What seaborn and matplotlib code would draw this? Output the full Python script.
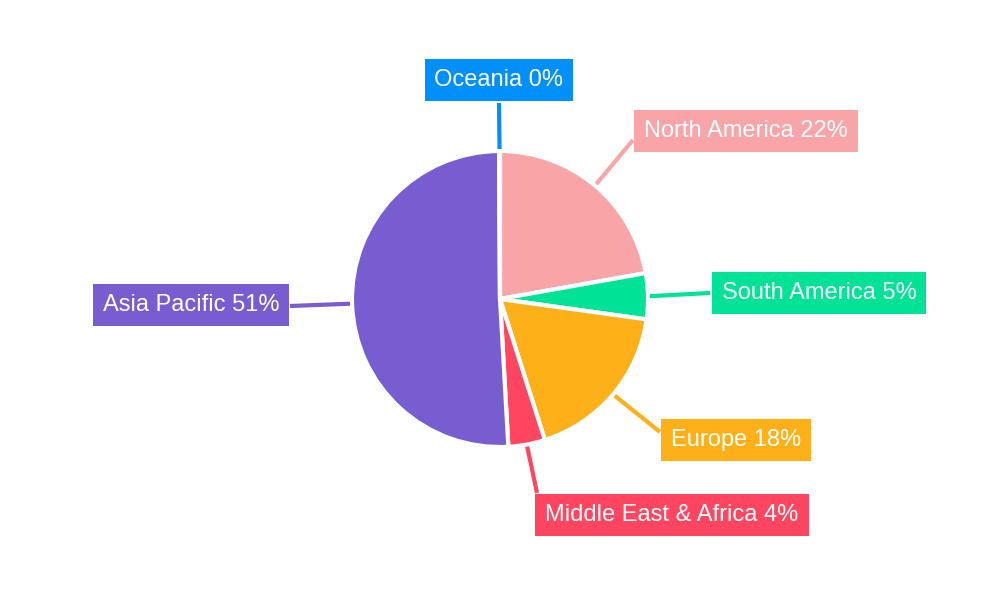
import numpy as np
import matplotlib
matplotlib.use("Agg")
import matplotlib.pyplot as plt
import seaborn as sns

regions = ["North America", "South America", "Europe", "Middle East & Africa", "Asia Pacific", "Oceania"]
values = [22.2, 5.0, 17.9, 4.0, 50.8, 0.1]
pct_labels = ["22%", "5%", "18%", "4%", "51%", "0%"]
colors = ["#F9A5A8", "#00E396", "#FEB019", "#FF4560", "#775DD0", "#008FFB"]

sns.set_theme(style="white")
plt.rcParams['font.family'] = ['Liberation Sans', 'DejaVu Sans']

fig = plt.figure(figsize=(10, 6), dpi=100)
ax = fig.add_axes([0, 0, 1, 1])

cx, cy, r = 500, 299, 148
ax.pie(values, colors=sns.color_palette(colors), startangle=-90, counterclock=True,
       center=(cx, cy), radius=r, frame=True,
       wedgeprops=dict(edgecolor="white", linewidth=3))
ax.set_xlim(0, 1000); ax.set_ylim(600, 0); ax.set_aspect('equal'); ax.axis('off')

label_pos = [(746, 131), (819, 293), (736, 440), (672, 515), (191, 305), (499, 80)]
line_ends = [(633, 140), (710, 293), (660, 432), (537, 493), (290, 306), (499, 103)]

cum = 0
for i, v in enumerate(values):
    mid = cum + v / 2
    cum += v
    ang = np.deg2rad(mid * 3.6)
    sx, sy = cx + (r + 2) * np.sin(ang), cy - (r + 2) * np.cos(ang)
    ex, ey = line_ends[i]
    ax.plot([sx, ex], [sy, ey], color=colors[i], lw=3, solid_capstyle='butt')
    ax.text(*label_pos[i], f"{regions[i]} {pct_labels[i]}", color="white", fontsize=17,
            ha="center", va="center",
            bbox=dict(boxstyle="square,pad=0.42", fc=colors[i], ec="none"))

fig.savefig("out.png", dpi=100)
